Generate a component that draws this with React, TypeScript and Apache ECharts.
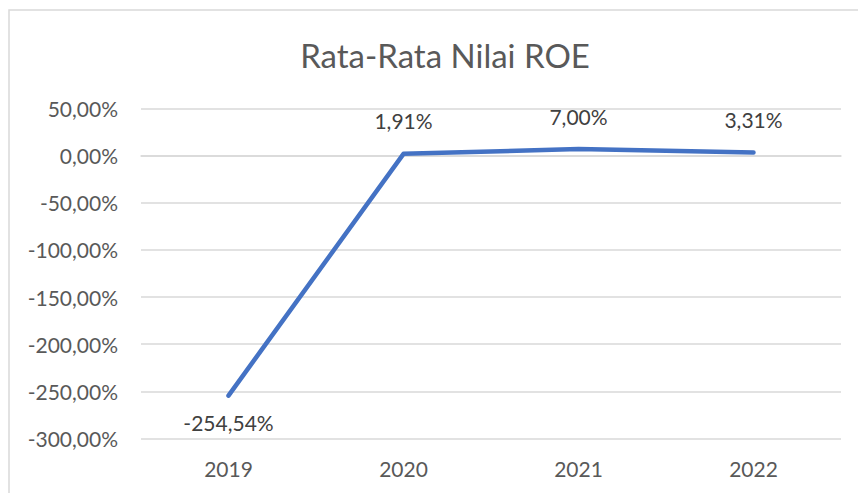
import React, { useEffect, useRef } from "react";
import * as echarts from "echarts";

const years = ["2019", "2020", "2021", "2022"];
const roeValues = [-254.54, 1.91, 7.0, 3.31];
const yMin = -300;
const yMax = 50;
const yStep = 50;

const fmt = (v: number) => v.toFixed(2).replace(".", ",") + "%";

export default function App() {
  const ref = useRef<HTMLDivElement>(null);
  useEffect(() => {
    if (!ref.current) return;
    const chart = echarts.init(ref.current, undefined, { renderer: "svg" });
    chart.setOption({
      animation: false,
      backgroundColor: "#ffffff",
      textStyle: { fontFamily: "Lato" },
      title: {
        text: "Rata-Rata Nilai ROE",
        left: 440,
        top: 33,
        textAlign: "center",
        textStyle: { fontFamily: "Lato", fontSize: 33, fontWeight: "normal", color: "#595959" },
      },
      graphic: [
        {
          type: "rect",
          shape: { x: 9, y: 10, width: 900, height: 520 },
          style: { fill: "none", stroke: "#d9d9d9", lineWidth: 1.5 },
          silent: true,
        },
      ],
      grid: { left: 141, right: 17, top: 108.5, bottom: 54.5, containLabel: false },
      xAxis: {
        type: "category",
        data: years,
        boundaryGap: true,
        axisLine: { show: true, lineStyle: { color: "#d9d9d9", width: 1.5 } },
        axisTick: { show: false },
        axisLabel: { fontFamily: "Lato", fontSize: 21, color: "#595959", margin: 19 },
      },
      yAxis: {
        type: "value",
        min: yMin,
        max: yMax,
        interval: yStep,
        axisLine: { show: false },
        axisTick: { show: false },
        splitLine: { lineStyle: { color: "#d9d9d9", width: 1.5 } },
        axisLabel: {
          fontFamily: "Lato",
          fontSize: 21,
          color: "#595959",
          margin: 23,
          formatter: (v: number) => fmt(v),
        },
      },
      series: [
        {
          type: "line",
          data: roeValues.map((v) => ({
            value: v,
            label: {
              show: true,
              position: v < 0 ? "bottom" : "top",
              distance: v < 0 ? 16 : 22,
            },
          })),
          showSymbol: true,
          symbol: "circle",
          symbolSize: 1,
          itemStyle: { color: "rgba(68,114,196,0)", borderWidth: 0 },
          lineStyle: { color: "#4472C4", width: 4.5, cap: "round", join: "round" },
          label: {
            show: true,
            fontFamily: "Lato",
            fontSize: 21,
            color: "#404040",
            formatter: (p: any) => fmt(p.value),
          },
        },
      ],
    });
    return () => chart.dispose();
  }, []);
  return (
    <div
      ref={ref}
      style={{ position: "fixed", left: 0, top: 0, width: 858, height: 493 }}
    />
  );
}
